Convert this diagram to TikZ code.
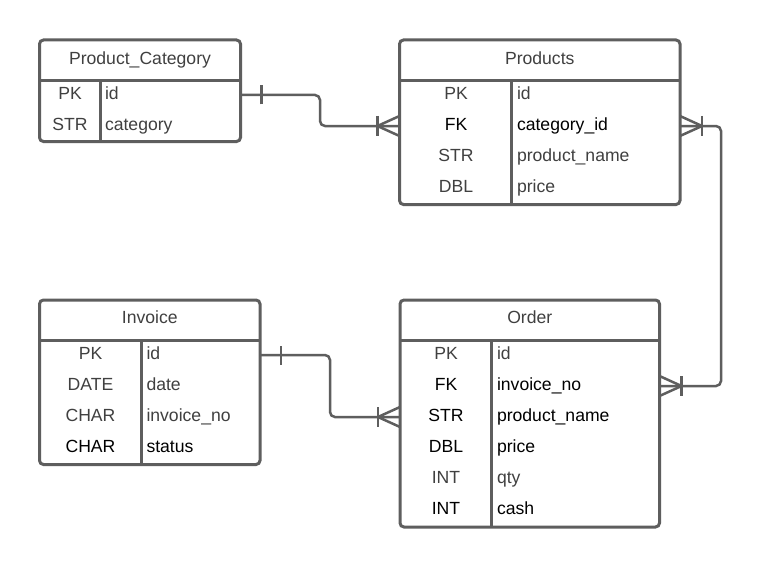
\documentclass[tikz,border=0pt]{standalone}
\usepackage{fontspec}
\setmainfont{Liberation Sans}
\definecolor{edge}{HTML}{5E5E5E}
\definecolor{soft}{HTML}{404040}
\begin{document}
\begin{tikzpicture}[x=1pt,y=-1pt,
  every node/.style={inner sep=0pt, outer sep=0pt},
  tbl/.style={draw=edge, line width=3pt, rounded corners=4pt, anchor=north west, fill=white},
  rule/.style={draw=edge, line width=3pt},
  rowbox/.style={anchor=north west, minimum height=31pt},
  txt/.style={font=\fontsize{17.6}{21}\selectfont, anchor=base, text=black},
  val/.style={txt, anchor=base west},
  dim/.style={text=soft},
  conn/.style={draw=edge, line width=2.5pt, rounded corners=5pt},
  tick/.style={draw=edge, line width=2.5pt}]
\useasboundingbox[fill=white] (0,0) rectangle (762,567);

% ---------- Product_Category ----------
\node[tbl, minimum width=201pt, minimum height=101.5pt] (pc) at (39.5,40) {};
\draw[rule] (39.5,80.7) -- (240.5,80.7);
\draw[rule] (100,80.7) -- (100,141.5);
\node[rowbox, minimum width=201pt] (pc1) at (39.5,79.5) {};
\node[rowbox, minimum width=201pt] (pc2) at (39.5,110.5) {};
\node[txt, dim] (pcT) at (140,64.3) {Product\_Category};
\node[txt, dim] (pc1k) at (70,99.5) {PK};
\node[val, dim] (pc1v) at (105,99.5) {id};
\node[txt, dim] (pc2k) at (70,130.5) {STR};
\node[val, dim] (pc2v) at (105,130.5) {category};

% ---------- Products ----------
\node[tbl, minimum width=280.5pt, minimum height=164.5pt] (pr) at (399.5,40) {};
\draw[rule] (399.5,80.7) -- (680,80.7);
\draw[rule] (511.5,80.7) -- (511.5,204.5);
\node[rowbox, minimum width=280.5pt] (pr1) at (399.5,79.5) {};
\node[rowbox, minimum width=280.5pt] (pr2) at (399.5,110.5) {};
\node[rowbox, minimum width=280.5pt] (pr3) at (399.5,141.5) {};
\node[rowbox, minimum width=280.5pt] (pr4) at (399.5,172.5) {};
\node[txt, dim] (prT) at (539.75,64.3) {Products};
\node[txt, dim] (pr1k) at (456,99.5) {PK};
\node[val, dim] (pr1v) at (517,99.5) {id};
\node[txt] (pr2k) at (456,130.5) {FK};
\node[val] (pr2v) at (517,130.5) {category\_id};
\node[txt, dim] (pr3k) at (456,161.5) {STR};
\node[val, dim] (pr3v) at (517,161.5) {product\_name};
\node[txt, dim] (pr4k) at (456,192.5) {DBL};
\node[val, dim] (pr4v) at (517,192.5) {price};

% ---------- Invoice ----------
\node[tbl, minimum width=220.5pt, minimum height=164.5pt] (in) at (39.5,300) {};
\draw[rule] (39.5,340.7) -- (260,340.7);
\draw[rule] (141,340.7) -- (141,464.5);
\node[rowbox, minimum width=220.5pt] (in1) at (39.5,339.5) {};
\node[rowbox, minimum width=220.5pt] (in2) at (39.5,370.5) {};
\node[rowbox, minimum width=220.5pt] (in3) at (39.5,401.5) {};
\node[rowbox, minimum width=220.5pt] (in4) at (39.5,432.5) {};
\node[txt, dim] (inT) at (149.75,323.8) {Invoice};
\node[txt, dim] (in1k) at (90.5,359.5) {PK};
\node[val, dim] (in1v) at (146.5,359.5) {id};
\node[txt, dim] (in2k) at (90.5,390.5) {DATE};
\node[val, dim] (in2v) at (146.5,390.5) {date};
\node[txt, dim] (in3k) at (90.5,421.5) {CHAR};
\node[val, dim] (in3v) at (146.5,421.5) {invoice\_no};
\node[txt] (in4k) at (90.5,452.5) {CHAR};
\node[val] (in4v) at (146.5,452.5) {status};

% ---------- Order ----------
\node[tbl, minimum width=259.5pt, minimum height=227pt] (or) at (400,300) {};
\draw[rule] (400,340.7) -- (659.5,340.7);
\draw[rule] (491,340.7) -- (491,527);
\node[rowbox, minimum width=259.5pt] (or1) at (400,339.5) {};
\node[rowbox, minimum width=259.5pt] (or2) at (400,370.5) {};
\node[rowbox, minimum width=259.5pt] (or3) at (400,401.5) {};
\node[rowbox, minimum width=259.5pt] (or4) at (400,432.5) {};
\node[rowbox, minimum width=259.5pt] (or5) at (400,463.5) {};
\node[rowbox, minimum width=259.5pt] (or6) at (400,494.5) {};
\node[txt, dim] (orT) at (529.75,323.8) {Order};
\node[txt, dim] (or1k) at (446,359.5) {PK};
\node[val, dim] (or1v) at (497,359.5) {id};
\node[txt] (or2k) at (446,390.5) {FK};
\node[val] (or2v) at (497,390.5) {invoice\_no};
\node[txt] (or3k) at (446,421.5) {STR};
\node[val] (or3v) at (497,421.5) {product\_name};
\node[txt] (or4k) at (446,452.5) {DBL};
\node[val] (or4v) at (497,452.5) {price};
\node[txt, dim] (or5k) at (446,483.5) {INT};
\node[val, dim] (or5v) at (497,483.5) {qty};
\node[txt] (or6k) at (446,514.5) {INT};
\node[val] (or6v) at (497,514.5) {cash};

% ---------- relationships ----------
\coordinate (j1) at (320,0);
\coordinate (j2) at (721,0);
\coordinate (j3) at (330,0);

% Product_Category (one) -- Products (many)
\draw[conn] (pc1.east) -- (j1 |- pc1.east) -- (j1 |- pr2.west) -- (pr2.west);
\draw[tick] ([xshift=21pt,yshift=-9.5pt]pc1.east) -- ([xshift=21pt,yshift=9.5pt]pc1.east);
\draw[tick] ([yshift=10pt]pr2.west) -- ([xshift=-22pt]pr2.west) -- ([yshift=-10pt]pr2.west);
\draw[tick] ([xshift=-22pt,yshift=10pt]pr2.west) -- ([xshift=-22pt,yshift=-10pt]pr2.west);

% Products (many) -- Order (many)
\draw[conn] (pr2.east) -- (j2 |- pr2.east) -- (j2 |- or2.east) -- (or2.east);
\draw[tick] ([yshift=10pt]pr2.east) -- ([xshift=22pt]pr2.east) -- ([yshift=-10pt]pr2.east);
\draw[tick] ([xshift=22pt,yshift=10pt]pr2.east) -- ([xshift=22pt,yshift=-10pt]pr2.east);
\draw[tick] ([yshift=10pt]or2.east) -- ([xshift=22pt]or2.east) -- ([yshift=-10pt]or2.east);
\draw[tick] ([xshift=22pt,yshift=10pt]or2.east) -- ([xshift=22pt,yshift=-10pt]or2.east);

% Invoice (one) -- Order (many)
\draw[conn] (in1.east) -- (j3 |- in1.east) -- (j3 |- or3.west) -- (or3.west);
\draw[tick] ([xshift=21pt,yshift=-9.5pt]in1.east) -- ([xshift=21pt,yshift=9.5pt]in1.east);
\draw[tick] ([yshift=10pt]or3.west) -- ([xshift=-22pt]or3.west) -- ([yshift=-10pt]or3.west);
\draw[tick] ([xshift=-22pt,yshift=10pt]or3.west) -- ([xshift=-22pt,yshift=-10pt]or3.west);
\end{tikzpicture}
\end{document}
